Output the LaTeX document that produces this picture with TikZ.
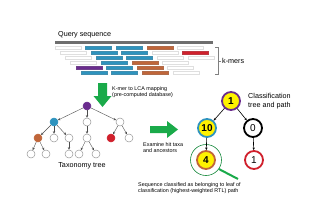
\documentclass[tikz,border=0pt]{standalone}
\usepackage{fontspec}
\setmainfont{Liberation Sans}
\usetikzlibrary{arrows.meta}

\definecolor{kmw}{RGB}{255,255,255}
\definecolor{kmb}{RGB}{46,147,190}
\definecolor{kmo}{RGB}{192,102,58}
\definecolor{kmr}{RGB}{208,32,44}
\definecolor{kmp}{RGB}{106,44,142}
\definecolor{seqgray}{RGB}{110,110,110}
\definecolor{arrgreen}{RGB}{26,170,74}
\definecolor{nodeyellow}{RGB}{255,242,0}

\tikzset{
  taxon/.style={circle, draw=gray!80, line width=0.5pt, fill=white, minimum size=8pt, inner sep=0pt},
  pathnode/.style={circle, line width=1.8pt, minimum size=18pt, inner sep=0pt, font=\fontsize{10}{10}\selectfont},
  small/.style={font=\fontsize{5.4}{6.6}\selectfont, align=left, inner sep=0pt},
  label/.style={font=\fontsize{7.2}{9.5}\selectfont, align=left, inner sep=0pt},
}

\begin{document}
\begin{tikzpicture}[x=1pt, y=-1pt, >={Stealth[length=2.6pt,width=2.4pt]}]
    \useasboundingbox (0,0) rectangle (320,222);

    % 参数设置
    \def\barw{26}   % k-mer长度
    \def\barh{2.4}  % k-mer高度
    \def\period{30.6}
    \def\shift{5.2}

    % 查询序列
    \node[label, anchor=west] (qlabel) at (58,35) {Query sequence};
    \fill[seqgray] (55,41.3) rectangle (213,43.6);

    % k-mers
    \foreach \row/\cols in {0/{w,b,b,o,w}, 1/{w,b,b,w,r}, 2/{w,b,b,w,w},
                            3/{w,b,o,w}, 4/{p,b,o,w}, 5/{b,b,o,w}} {
      \foreach \c [count=\i from 0] in \cols {
        \filldraw[fill=km\c, draw=km\c!75!gray, line width=0.4pt]
          (55+\shift*\row+\period*\i, 47.5+5*\row-\barh/2)
          rectangle ++(\barw,\barh);
      }
    }

    % 括号 k-mers
    \draw[gray, line width=0.5pt] (215,47) -- (218,47) -- (218,74) -- (215,74);
    \draw[gray, line width=0.5pt] (218,61) -- (221,61);
    \node[label, anchor=west] (kmers) at (222,61) {k-mers};

    % 绿色箭头（向下）
    \fill[arrgreen] (98,83) -- (107,83) -- (107,96) -- (111.5,96)
                    -- (102.5,107) -- (93.5,96) -- (98,96) -- cycle;
    \node[small, anchor=west] (lca) at (112,92) {K-mer to LCA mapping\\(pre-computed database)};

    % 分类学树
    \node[taxon, fill=kmp, draw=kmp] (root) at (87,106) {};
    \node[taxon, fill=kmb, draw=kmb] (a) at (54,122) {};
    \node[taxon] (b) at (87,122) {};
    \node[taxon] (c) at (120,122) {};
    \node[taxon, fill=kmo, draw=kmo] (a1) at (38,138) {};
    \node[taxon] (a2) at (54,138) {};
    \node[taxon] (a3) at (69,138) {};
    \node[taxon] (b1) at (87,138) {};
    \node[taxon, fill=kmr, draw=kmr] (c1) at (111,138) {};
    \node[taxon] (c2) at (129,138) {};
    \node[taxon] (a11) at (31,154) {};
    \node[taxon] (a12) at (46,154) {};
    \node[taxon] (a31) at (69,154) {};
    \node[taxon] (b11) at (79,154) {};
    \node[taxon] (b12) at (96,154) {};
    \foreach \p/\q in {root/a, root/b, root/c, a/a1, a/a2, a/a3, b/b1, c/c1, c/c2,
                       a1/a11, a1/a12, a3/a31, b1/b11, b1/b12} {
      \draw[->, gray!60!black, line width=0.4pt] (\p) -- (\q);
    }
    \node[label, anchor=north] (taxlabel) at (82,162) {Taxonomy tree};

    % 绿色箭头（向右）
    \fill[arrgreen] (150,126) -- (167,126) -- (167,121) -- (178,129.5)
                    -- (167,138) -- (167,133) -- (150,133) -- cycle;
    \node[small, anchor=west] (examine) at (143,147.5) {Examine hit taxa\\and ancestors};

    % 分类树与路径
    \node[pathnode, fill=nodeyellow, draw=kmp] (n1) at (231,101) {\bfseries 1};
    \node[pathnode, fill=nodeyellow, draw=kmb] (n10) at (207,128) {\bfseries 10};
    \node[pathnode, fill=white, draw=black] (n0) at (253,128) {0};
    \node[pathnode, fill=nodeyellow, draw=kmo] (n4) at (206,160) {\bfseries 4};
    \node[pathnode, fill=white, draw=kmr] (n1r) at (254,160) {1};
    \node[circle, draw=arrgreen!80!black, line width=0.6pt, minimum size=31pt, inner sep=0pt] (ring) at (206,160) {};
    \foreach \p/\q in {n1/n10, n1/n0, n10/n4, n0/n1r} {
      \draw[->, black, line width=0.6pt] (\p) -- (\q);
    }
    \node[label, anchor=west] (ctree) at (248,101) {Classification\\tree and path};

    % 指示线
    \coordinate (tip) at (238,179);
    \draw[arrgreen, line width=2pt] (ring.-35) -- (tip);
    \node[small, anchor=west] (result) at (138,188) {Sequence classified as belonging to leaf of\\classification (highest-weighted RTL) path};

\end{tikzpicture}
\end{document}
